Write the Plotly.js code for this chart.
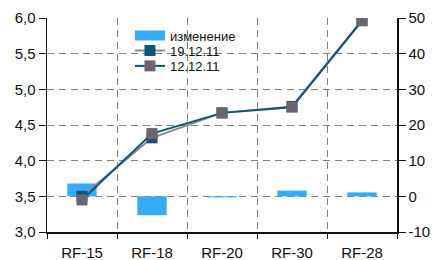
<!DOCTYPE html>
<html>
<head>
<meta charset="utf-8">
<script src="https://cdn.plot.ly/plotly-3.0.1.min.js"></script>
<style>html,body{margin:0;padding:0;background:#fff;}#chart{width:435px;height:260px;}</style>
</head>
<body>
<div id="chart"></div>
<script>
var categories = ['RF-15', 'RF-18', 'RF-20', 'RF-30', 'RF-28'];
var changeValues = [3.6, -5.3, -0.3, 1.6, 1.1];
var s19 = [3.50, 4.32, 4.67, 4.76, 5.97];
var s12 = [3.45, 4.38, 4.67, 4.75, 5.96];
var leftTicks = [3.0, 3.5, 4.0, 4.5, 5.0, 5.5, 6.0];
var leftTickText = ['3,0', '3,5', '4,0', '4,5', '5,0', '5,5', '6,0'];
var rightTicks = [-10, 0, 10, 20, 30, 40, 50];
var rightTickText = ['-10', '0', '10', '20', '30', '40', '50'];

var dark = '#0e5576';
var grayM = '#6a6570';
var grayL = '#8c8890';
var blue = '#35abf7';
var fam = 'Liberation Sans, Arial, sans-serif';
var font = {family: fam, size: 15, color: '#111'};
var lfont = {family: fam, size: 13, color: '#111'};

var traces = [
  {type: 'bar', name: 'изменение', x: categories, y: changeValues, yaxis: 'y',
   marker: {color: blue}, width: 0.42, showlegend: false},
  {type: 'scatter', mode: 'lines', name: 'изменение', x: [null], y: [null], yaxis: 'y',
   line: {color: blue, width: 12}, legend: 'legend'},
  {type: 'scatter', mode: 'lines+markers', name: '19.12.11', x: categories, y: s19, yaxis: 'y2',
   line: {color: grayL, width: 2}, marker: {symbol: 'square', size: 11, color: dark}, legend: 'legend2'},
  {type: 'scatter', mode: 'lines+markers', name: '12.12.11', x: categories, y: s12, yaxis: 'y2',
   line: {color: dark, width: 2}, marker: {symbol: 'square', size: 11, color: grayM}, legend: 'legend3'}
];

function leg(y) {
  return {x: 0.237, y: y, xanchor: 'left', yanchor: 'middle', bgcolor: 'rgba(0,0,0,0)',
          font: lfont, itemwidth: 30};
}

var layout = {
  width: 435, height: 260,
  margin: {l: 47, r: 38, t: 18, b: 28},
  paper_bgcolor: '#fff', plot_bgcolor: '#fff',
  font: font,
  showlegend: true,
  hovermode: false,
  legend: leg(0.918),
  legend2: leg(0.848),
  legend3: leg(0.776),
  xaxis: {type: 'category', tickson: 'boundaries', showgrid: true, gridcolor: '#808080', griddash: '7px,5px',
          gridwidth: 1, showline: true, linecolor: '#111', linewidth: 1.5, ticks: 'outside',
          ticklen: 5, tickcolor: '#111', zeroline: false, tickfont: font, ticklabelstandoff: 6},
  yaxis: {side: 'right', range: [-10, 50], tickvals: rightTicks, ticktext: rightTickText,
          showgrid: true, gridcolor: '#808080', griddash: '7px,5px', gridwidth: 1, zeroline: false,
          showline: true, linecolor: '#111', linewidth: 1.5, ticks: 'outside', ticklen: 7,
          tickcolor: '#111', tickfont: font},
  yaxis2: {side: 'left', overlaying: 'y', range: [3, 6], tickvals: leftTicks, ticktext: leftTickText,
           showgrid: false, zeroline: false, showline: true, linecolor: '#111', linewidth: 1.5,
           ticks: 'outside', ticklen: 7, tickcolor: '#111', tickfont: font}
};

Plotly.newPlot('chart', traces, layout, {staticPlot: true, displayModeBar: false});
</script>
</body>
</html>
